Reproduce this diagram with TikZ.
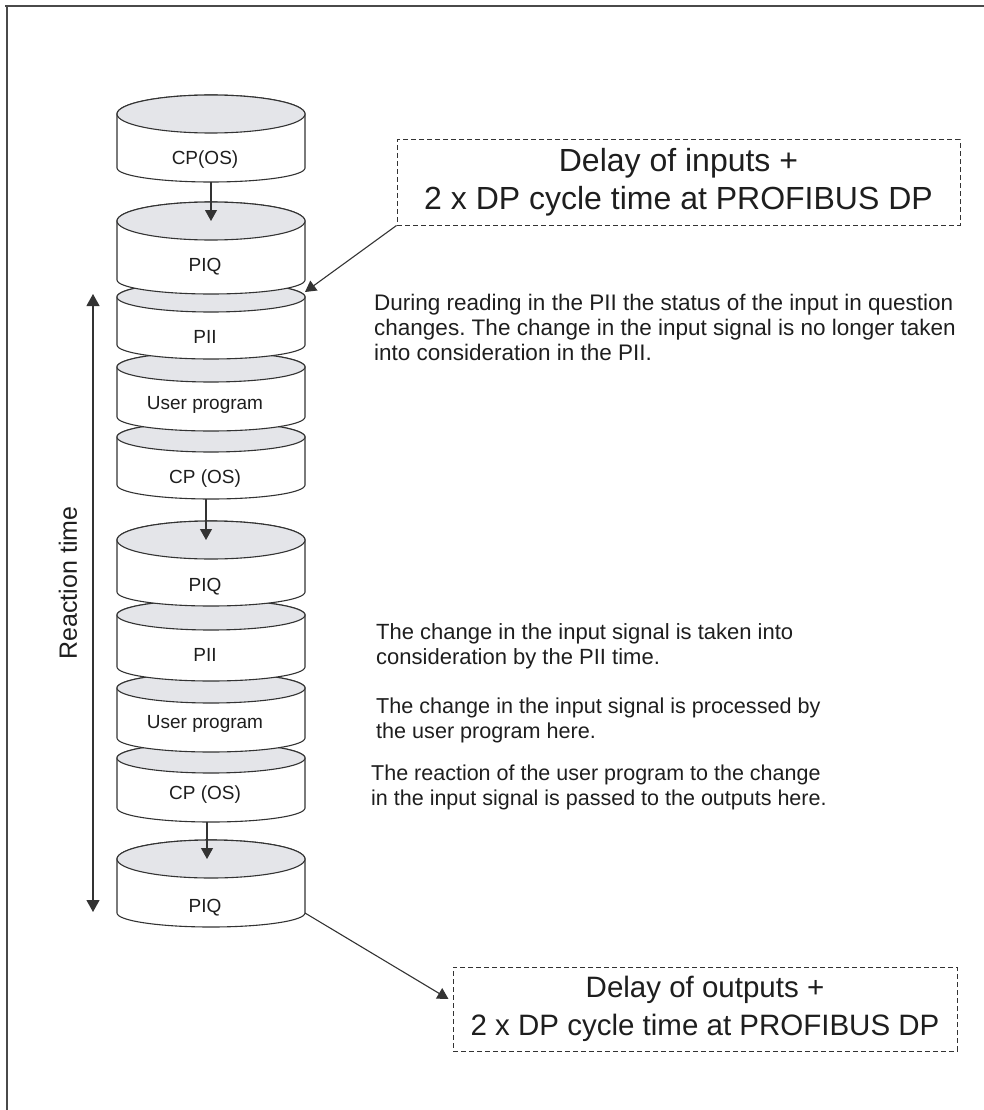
\documentclass[tikz,border=0pt]{standalone}
\usepackage{fontspec}
\setmainfont{Liberation Sans}
\usetikzlibrary{arrows.meta}
\definecolor{ink}{HTML}{333333}
\definecolor{lidgrey}{HTML}{E4E5E9}
\definecolor{txt}{HTML}{1E1E1E}
\definecolor{framecol}{HTML}{4A4A4A}
\frenchspacing

\tikzset{
  drumline/.style={draw=ink, line width=1.1pt},
  drumtext/.style={text=txt, font=\fontsize{19}{22}\selectfont, inner sep=0pt},
  flow/.style={draw=ink, line width=1.1pt, -{Triangle[length=11pt,width=12pt]}},
  span/.style={draw=ink, line width=1.1pt, {Triangle[length=12pt,width=13pt]}-{Triangle[length=12pt,width=13pt]}},
  delaybox/.style={draw=ink, line width=1pt, dash pattern=on 5pt off 3pt, align=center,
    text=txt, inner sep=0pt},
  remark/.style={anchor=north west, align=left, inner sep=0pt, text=txt},
}

% one drum of the cycle: #1 name, #2 lid centre y, #3 lid half height,
% #4 base centre y, #5 label y, #6 label
\newcommand\drum[6]{%
  \filldraw[drumline, fill=white] (117,#2) -- (117,#4)
    arc[start angle=180, end angle=360, x radius=94pt, y radius=14pt]
    -- (305,#2)
    arc[start angle=0, end angle=180, x radius=94pt, y radius=#3pt] -- cycle;
  \filldraw[drumline, fill=lidgrey] (211,#2) ellipse[x radius=94pt, y radius=#3pt];
  \coordinate (#1-c) at (211,#2);
  \coordinate (#1-s) at (211,{#4+14});
  \coordinate (#1-ne) at (305,#2);
  \coordinate (#1-se) at (305,#4);
  \node[drumtext] (#1) at (205,#5) {#6};
}

\begin{document}
\begin{tikzpicture}[x=1pt, y=-1pt]
\useasboundingbox (0,0) rectangle (984,1110);

% page frame
\draw[framecol, line width=1.5pt] (5,6) -- (984,6);
\draw[framecol, line width=1.5pt] (7,6) -- (7,1110);

% drums, drawn bottom-up so each one overlaps the one below
\drum{c10}{859}{19}{913}{908}{PIQ}
\drum{c9}{758}{15}{808}{795}{CP (OS)}
\drum{c8}{688}{15}{738}{724}{User program}
\drum{c7}{615}{15}{667}{655}{PII}
\drum{c6}{540}{19}{592}{587}{PIQ}
\drum{c5}{437}{15}{485}{479}{CP (OS)}
\drum{c4}{367}{15}{417}{405}{User program}
\drum{c3}{297}{15}{345}{337}{PII}
\drum{c2}{221}{19}{280}{267}{PIQ}
\drum{c1}{114}{19}{168}{160}{CP(OS)}

% transitions between cycles
\draw[flow] (c1-s) -- (c2-c);
\draw[flow] ([xshift=-5pt]c5-s) -- ([xshift=-5pt]c6-c);
\draw[flow] ([xshift=-4pt]c9-s) -- ([xshift=-4pt]c10-c);

% reaction time span
\coordinate (rt-top) at (93,294);
\coordinate (rt-bot) at (93,912);
\draw[span] (rt-top) -- (rt-bot);
\node[rotate=90, text=txt, font=\fontsize{25}{30}\selectfont, inner sep=0pt] (rtlabel) at (68,583) {Reaction time};

% delay boxes
\node[delaybox, font=\fontsize{32}{38}\selectfont, minimum width=563pt, minimum height=85pt] (inbox) at (678.5,182.5)
  {Delay of inputs +\\2 x DP cycle time at PROFIBUS DP};
\node[delaybox, font=\fontsize{29.5}{38}\selectfont, minimum width=504pt, minimum height=84pt] (outbox) at (705,1009)
  {Delay of outputs +\\2 x DP cycle time at PROFIBUS DP};

\draw[flow] (inbox.south west) -- ([yshift=5pt]c3-ne);
\coordinate (outtip) at ([xshift=-4pt, yshift=10pt]outbox.west);
\draw[flow] (c10-se) -- (outtip);

% remarks
\node[remark, font=\fontsize{22.5}{25}\selectfont] (r1) at (374,294) {During reading in the PII the status of the input in question\\changes. The change in the input signal is no longer taken\\into consideration in the PII.};
\node[remark, font=\fontsize{22}{25}\selectfont] (r2) at (376,623) {The change in the input signal is taken into\\consideration by the PII time.};
\node[remark, font=\fontsize{21.6}{25}\selectfont] (r3) at (376,698) {The change in the input signal is processed by\\the user program here.};
\node[remark, font=\fontsize{21.5}{25}\selectfont] (r4) at (371,765) {The reaction of the user program to the change\\in the input signal is passed to the outputs here.};
\end{tikzpicture}
\end{document}
